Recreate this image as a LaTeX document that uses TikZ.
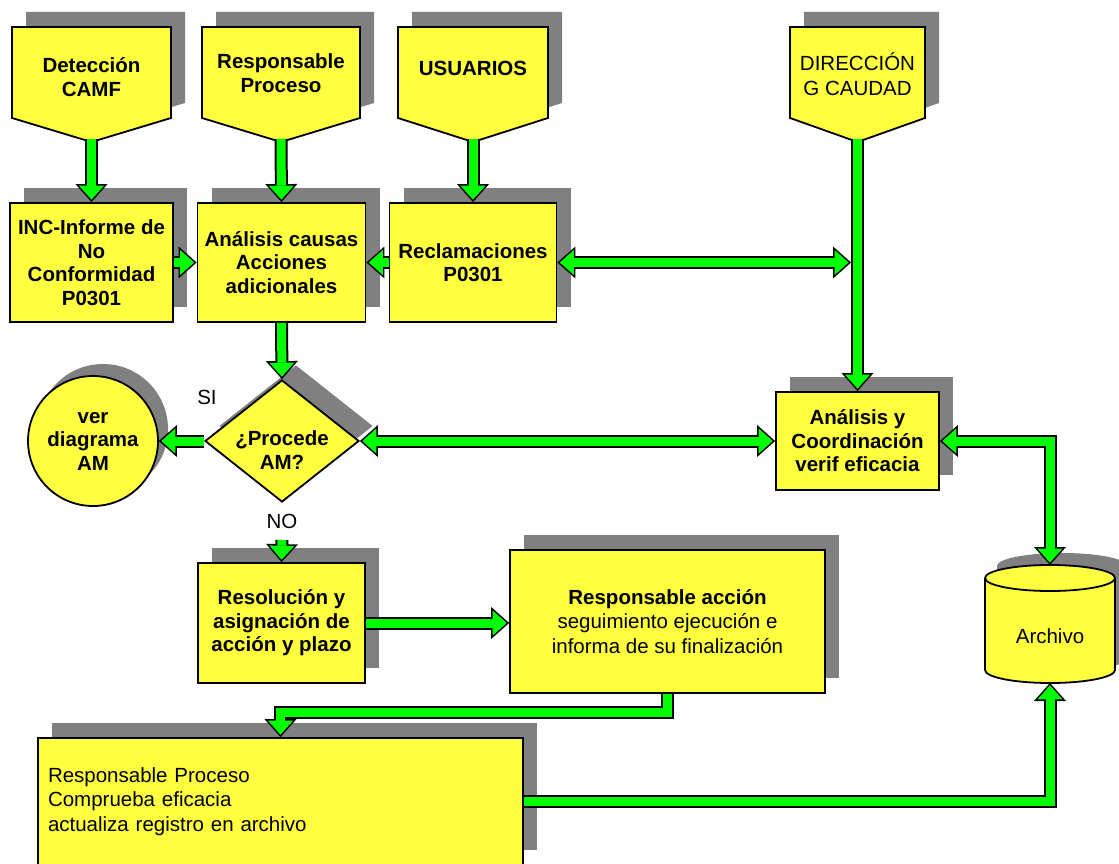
\documentclass[tikz,border=0pt]{standalone}
\usepackage{fontspec}
\setmainfont{Liberation Sans}
\usetikzlibrary{arrows.meta,shapes.geometric,shadows}
\definecolor{boxyellow}{RGB}{255,255,64}
\definecolor{shadowgray}{RGB}{128,128,128}
\definecolor{arrowgreen}{RGB}{0,255,0}
\newcommand\bfs{\bfseries\fontsize{20.5}{23.5}\selectfont}
\newcommand\rgs{\fontsize{20.5}{24.5}\selectfont}
\tikzset{
  shd/.style={general shadow={fill=shadowgray, shadow xshift=14pt, shadow yshift=15pt}},
  ybox/.style={draw=black, line width=1.8pt, fill=boxyellow, inner sep=0pt, align=center, font=\bfs, shd},
  gouter/.style={line width=13pt, draw=black, line join=miter, line cap=butt},
  ginner/.style={line width=9pt, draw=arrowgreen, line join=miter, line cap=butt},
  lbl/.style={font=\rgs, inner sep=2pt}
}
\newcommand\gsingle[1]{%
  \draw[gouter, -{Triangle[width=32pt,length=18pt,line width=0pt]}] #1;
  \draw[ginner, -{Triangle[width=25pt,length=14pt,line width=0pt]}, shorten >=2.4pt] #1;
}
\newcommand\gdouble[1]{%
  \draw[gouter, {Triangle[width=32pt,length=18pt,line width=0pt]}-{Triangle[width=32pt,length=18pt,line width=0pt]}] #1;
  \draw[ginner, {Triangle[width=25pt,length=14pt,line width=0pt]}-{Triangle[width=25pt,length=14pt,line width=0pt]}, shorten >=2.4pt, shorten <=2.4pt] #1;
}
% #1 font, #2 name, #3 x1, #4 x2, #5 text y, #6 text
\newcommand\pent[6][\bfs]{%
  \pgfmathsetmacro\pcx{(#3+#4)/2}
  \fill[shadowgray, shift={(14,-15)}] (#3,27) -- (#4,27) -- (#4,118) -- (\pcx,142) -- (#3,118) -- cycle;
  \filldraw[fill=boxyellow, draw=black, line width=1.8pt, line join=miter] (#3,27) -- (#4,27) -- (#4,118) -- (\pcx,142) -- (#3,118) -- cycle;
  \coordinate (#2-tip) at (\pcx,142);
  \node[font=#1, align=center, inner sep=0pt] (#2) at (\pcx,#5) {#6};
}
\begin{document}
\begin{tikzpicture}[x=1pt,y=-1pt]
\useasboundingbox (0,0) rectangle (1119,864);

% top connectors (pentagons)
\pent{det}{12}{171}{77}{Detección\\CAMF}
\pent{rpr}{202}{360}{73}{Responsable\\Proceso}
\pent{usu}{398}{548}{68}{USUARIOS}
\pent[\rgs]{dir}{790}{925}{74}{DIRECCIÓN\\G CAUDAD}

% boxes
\node[ybox, minimum width=163pt, minimum height=119pt] (inc) at (91.5,262.5) {INC-Informe de\\No\\Conformidad\\P0301};
\node[ybox, minimum width=168pt, minimum height=119pt] (ac) at (281.5,262.5) {Análisis causas\\Acciones\\adicionales};
\node[ybox, minimum width=167pt, minimum height=119pt] (rec) at (473,262.5) {Reclamaciones\\P0301};
\node[ybox, minimum width=163pt, minimum height=98pt] (ayc) at (857.5,441) {Análisis y\\Coordinación\\verif eficacia};
\node[ybox, minimum width=167pt, minimum height=120pt] (res) at (281.5,623) {Resolución y\\asignación de\\acción y plazo};
\node[ybox, font=\rgs, minimum width=315pt, minimum height=143pt] (ra) at (667.5,621.5) {\textbf{Responsable acción}\\seguimiento ejecución e\\informa de su finalización};
\node[ybox, font=\rgs, minimum width=485pt, minimum height=127pt, text width=465pt, align=left] (rp) at (280.5,801.5) {Responsable Proceso\\Comprueba eficacia\\actualiza registro en archivo};

% circle
\node[circle, draw=black, line width=1.8pt, fill=boxyellow, minimum size=130pt, inner sep=0pt,
      general shadow={fill=shadowgray, shadow xshift=10pt, shadow yshift=12pt}] (am) at (93,441) {};
\node[font=\bfs, align=center, inner sep=0pt] (amt) at (93,441) {ver\\diagrama\\AM};

% decision
\node[diamond, draw=black, line width=1.8pt, fill=boxyellow, minimum width=154pt, minimum height=122pt, inner sep=0pt, shd] (dm) at (282,441) {};
\node[font=\bfs, align=center, inner sep=0pt] (dmt) at (282,450) {¿Procede\\AM?};

% archive cylinder
\begin{scope}[shift={(12,-12)}]
\fill[shadowgray] (985,578) -- (985,670) arc[start angle=180,end angle=360,x radius=65pt,y radius=13pt] -- (1115,578) arc[start angle=0,end angle=180,x radius=65pt,y radius=13pt] -- cycle;
\end{scope}
\filldraw[fill=boxyellow, draw=black, line width=1.8pt] (985,578) -- (985,670) arc[start angle=180,end angle=360,x radius=65pt,y radius=13pt] -- (1115,578) arc[start angle=0,end angle=180,x radius=65pt,y radius=13pt] -- cycle;
\draw[line width=1.8pt] (985,578) arc[start angle=180,end angle=360,x radius=65pt,y radius=13pt];
\node[font=\rgs] (arch) at (1050,636) {Archivo};
\coordinate (arch-top) at (1050,565);
\coordinate (arch-bot) at (1050,683);

% labels
\node[lbl] (si) at (207,397) {SI};
\node[lbl] (no) at (282,521) {NO};
\coordinate (nob) at (282,540);
\coordinate (dj) at (851,262.5);

% connectors
\gsingle{([yshift=3pt]det-tip) -- (inc.north)}
\gsingle{([yshift=3pt]rpr-tip) -- (ac.north)}
\gsingle{([yshift=3pt]usu-tip) -- (rec.north)}
\gsingle{(inc.east) -- (ac.west)}
\gsingle{(rec.west) -- (ac.east)}
\gdouble{(rec.east) -- (dj)}
\gsingle{([yshift=3pt]dir-tip) -- (ayc.north)}
\gsingle{(ac.south) -- (dm.north)}
\gsingle{(dm.west) -- (am.east)}
\gdouble{(dm.east) -- (ayc.west)}
\gdouble{(ayc.east) -| (arch-top)}
\gsingle{(nob) -- (res.north)}
\gsingle{(res.east) -- (res.east -| ra.west)}
\gsingle{(ra.south) -- ++(0,19) -| (rp.north)}
\gsingle{(rp.east) -| (arch-bot)}
\end{tikzpicture}
\end{document}
